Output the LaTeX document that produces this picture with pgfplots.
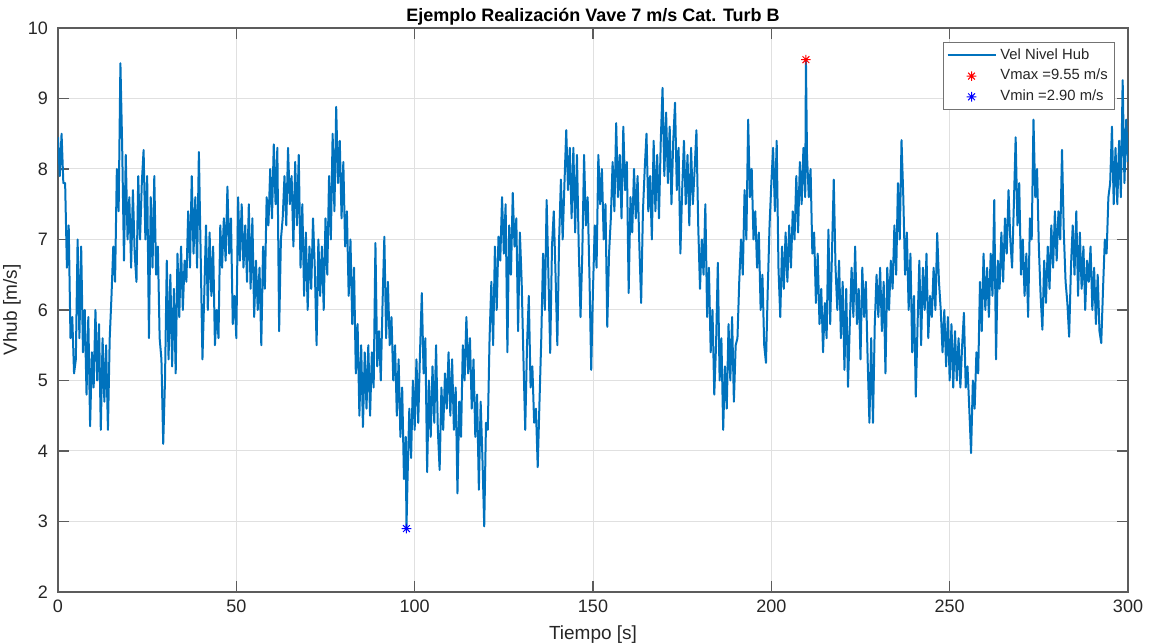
\documentclass[border=0pt]{standalone}
\usepackage{fontspec}
\setmainfont{Liberation Sans}
\usepackage{pgfplots}
\usepackage{pgfplotstable}
\pgfplotsset{compat=1.18}

\definecolor{mlblue}{RGB}{0,114,189}
\definecolor{axgray}{RGB}{38,38,38}
\definecolor{gridgray}{RGB}{224,224,224}

% eight-armed asterisk marker
\pgfdeclareplotmark{star8}{%
  \pgfpathmoveto{\pgfpoint{0pt}{\pgfplotmarksize}}%
  \pgfpathlineto{\pgfpoint{0pt}{-\pgfplotmarksize}}%
  \pgfpathmoveto{\pgfpoint{\pgfplotmarksize}{0pt}}%
  \pgfpathlineto{\pgfpoint{-\pgfplotmarksize}{0pt}}%
  \pgfpathmoveto{\pgfpoint{0.7071\pgfplotmarksize}{0.7071\pgfplotmarksize}}%
  \pgfpathlineto{\pgfpoint{-0.7071\pgfplotmarksize}{-0.7071\pgfplotmarksize}}%
  \pgfpathmoveto{\pgfpoint{-0.7071\pgfplotmarksize}{0.7071\pgfplotmarksize}}%
  \pgfpathlineto{\pgfpoint{0.7071\pgfplotmarksize}{-0.7071\pgfplotmarksize}}%
  \pgfusepathqstroke}

% legend images: a long blue line sample and a centred single mark
\pgfplotsset{
  legline/.style={legend image code/.code={%
    \draw[color=mlblue, line width=0.9pt] (0pt,0pt) -- (24pt,0pt);}},
  legmark/.style={legend image code/.code={\draw[mark repeat=2, mark phase=2, ##1]
    plot coordinates {(0pt,0pt) (12pt,0pt) (24pt,0pt)};}},
}

% hub-height wind speed record, t [s], v [m/s]
\pgfplotstableread{
x y
0 8.45
0.5 7.9
1 8.5
1.5 7.8
2 7.8
2.5 6.6
3 7.2
3.5 5.6
4 5.9
4.5 5.1
5 5.3
5.5 7.0
6 5.6
6.5 6.9
7 5.4
7.5 6.0
8 4.8
8.5 5.9
9 4.35
9.5 5.4
10 4.9
10.5 6.0
11 5.0
11.5 5.8
12 4.3
12.5 5.6
13 4.7
13.5 5.5
14 4.3
14.5 5.6
15 6.2
15.5 6.9
16 6.4
16.5 8.0
17 7.4
17.5 9.5
18 8.3
18.5 6.7
19 8.2
19.5 7.0
20 7.6
20.5 6.6
21 7.7
21.5 6.8
22 6.4
22.5 7.9
23 7.0
23.5 7.8
24 8.27
24.5 7.0
25 7.9
25.5 5.6
26 7.6
26.5 6.6
27 7.9
27.5 6.5
28 6.9
28.5 5.6
29 5.3
29.5 4.1
30 5.0
30.5 6.7
31 5.3
31.5 6.5
32 5.2
32.5 6.3
33 5.1
33.5 6.8
34 5.9
34.5 6.9
35 6.0
35.5 6.7
36 6.4
36.5 7.4
37 6.6
37.5 7.9
38 6.8
38.5 7.6
39 6.6
39.5 8.24
40 6.8
40.5 5.3
41 6.2
41.5 7.2
42 6.0
42.5 7.1
43 6.2
43.5 6.9
44 5.5
44.5 6.0
45 5.6
45.5 7.2
46 6.6
46.5 7.3
47 6.7
47.5 7.75
48 6.8
48.5 7.3
49 5.8
49.5 6.2
50 5.6
50.5 7.6
51 6.7
51.5 7.5
52 6.6
52.5 7.2
53 6.4
53.5 7.5
54 6.3
54.5 7.3
55 5.9
55.5 6.7
56 6.0
56.5 6.6
57 5.5
57.5 6.9
58 6.3
58.5 7.6
59 7.2
59.5 8.0
60 7.3
60.5 8.35
61 7.5
61.5 8.3
62 5.7
62.5 7.0
63 7.3
63.5 7.9
64 7.2
64.5 8.3
65 7.5
65.5 7.9
66 6.9
66.5 8.1
67 7.2
67.5 8.2
68 6.6
68.5 7.5
69 6.2
69.5 7.1
70 6.0
70.5 6.9
71 6.3
71.5 7.3
72 6.6
72.5 5.5
73 7.0
73.5 6.2
74 6.9
74.5 6.0
75 7.3
75.5 6.5
76 7.9
76.5 7.0
77 8.5
77.5 7.4
78 8.88
78.5 7.8
79 8.4
79.5 7.3
80 8.1
80.5 6.9
81 7.4
81.5 6.2
82 7.0
82.5 5.8
83 6.6
83.5 5.1
84 5.8
84.5 4.5
85 5.5
85.5 4.34
86 5.4
86.5 4.6
87 5.5
87.5 4.5
88 5.4
88.5 4.9
89 6.95
89.5 5.2
90 5.7
90.5 5.0
91 6.1
91.5 7.04
92 5.6
92.5 6.4
93 5.5
93.5 5.9
94 5.0
94.5 5.5
95 4.5
95.5 5.3
96 4.2
96.5 4.9
97 3.6
97.5 4.2
97.7 2.90
98 3.6
98.5 4.6
99 3.9
99.5 5.0
100 4.3
100.5 5.3
101 4.4
101.5 5.4
102 6.24
102.5 5.1
103 5.6
103.5 3.7
104 5.0
104.5 4.2
105 5.2
105.5 4.4
106 5.5
106.5 4.3
107 3.73
107.5 4.9
108 4.3
108.5 5.1
109 4.6
109.5 5.4
110 4.5
110.5 5.3
111 4.3
111.5 4.9
112 3.4
112.5 4.7
113 4.2
113.5 5.5
114 5.0
114.5 5.9
115 5.1
115.5 5.6
116 4.6
116.5 5.3
117 4.2
117.5 4.8
118 3.45
118.5 4.7
119 3.9
119.5 2.93
120 4.4
120.5 4.3
121 5.6
121.5 6.4
122 5.5
122.5 6.9
123 6.0
123.5 7.04
124 6.7
124.5 7.6
125 6.8
125.5 7.5
126 5.4
126.5 7.2
127 6.5
127.5 7.66
128 6.9
128.5 7.3
129 5.7
129.5 7.1
130 6.4
130.5 5.3
131 4.3
131.5 5.5
132 6.2
132.5 4.9
133 5.2
133.5 4.4
134 4.6
134.5 3.77
135 4.7
135.5 5.6
136 6.8
136.5 6.0
137 7.56
137.5 6.5
138 5.39
138.5 6.9
139 7.4
139.5 6.5
140 5.5
140.5 7.0
141 7.85
141.5 7.0
142 7.8
142.5 8.55
143 7.7
143.5 8.3
144 7.3
144.5 8.3
145 7.1
145.5 8.2
146 6.9
146.5 5.9
147 6.8
147.5 8.2
148 7.2
148.5 7.6
149 6.5
149.5 5.15
150 6.3
150.5 7.2
151 6.6
151.5 8.2
152 7.5
152.5 8.0
153 7.0
153.5 7.5
154 5.76
154.5 6.8
155 7.3
155.5 8.1
156 7.4
156.5 8.65
157 7.6
157.5 8.2
158 7.3
158.5 8.6
159 7.7
159.5 8.1
160 6.24
160.5 7.6
161 7.1
161.5 8.0
162 7.3
162.5 7.9
163 6.9
163.5 6.1
164 7.4
164.5 8.0
165 8.5
165.5 7.4
166 7.9
166.5 7.0
167 8.4
167.5 7.4
168 8.2
168.5 7.3
169 8.4
169.5 9.15
170 7.9
170.5 8.8
171 7.8
171.5 8.6
172 7.5
172.5 8.4
173 8.94
173.5 7.7
174 8.3
174.5 6.8
175 7.7
175.5 8.4
176 7.5
176.5 8.2
177 7.2
177.5 8.3
178 7.5
178.5 8.0
179 8.55
179.5 7.2
180 6.3
180.5 7.0
181 6.5
181.5 7.5
182 5.9
182.5 6.6
183 5.4
183.5 6.0
184 4.8
184.5 5.5
185 6.67
185.5 5.0
186 5.6
186.5 4.3
187 5.2
187.5 4.6
188 5.8
188.5 5.0
189 5.9
189.5 4.7
190 5.5
190.5 5.6
191 6.4
191.5 7.0
192 6.5
192.5 7.7
193 7.0
193.5 8.7
194 7.6
194.5 8.0
195 7.0
195.5 7.4
196 6.6
196.5 7.1
197 6.0
197.5 6.5
198 5.5
198.5 5.25
199 6.3
199.5 7.2
200 7.8
200.5 8.3
201 7.4
201.5 8.4
202 6.6
202.5 5.9
203 6.9
203.5 6.3
204 7.1
204.5 6.4
205 7.2
205.5 6.6
206 7.4
206.5 7.0
207 7.9
207.5 7.1
208 8.1
208.5 7.5
209 8.3
209.5 7.6
209.7 9.55
210 8.2
210.5 7.6
211 8.0
211.5 6.8
212 7.1
212.5 6.1
213 6.8
213.5 5.8
214 6.3
214.5 5.4
215 6.1
215.5 5.6
216 7.14
216.5 5.8
217 6.8
217.5 7.85
218 6.6
218.5 6.0
219 6.7
219.5 5.6
220 6.4
220.5 5.15
221 6.3
221.5 4.91
222 5.8
222.5 6.6
223 5.9
223.5 6.9
224 5.8
224.5 6.3
225 5.3
225.5 6.6
226 5.9
226.5 6.4
227 5.3
227.5 4.4
228 5.6
228.5 4.4
229 5.8
229.5 6.5
230 5.9
230.5 6.6
231 5.7
231.5 6.4
232 5.1
232.5 6.6
233 6.0
233.5 6.7
234 6.3
234.5 7.2
235 6.5
235.5 7.8
236 7.0
236.5 8.41
237 7.6
237.5 6.5
238 7.1
238.5 6.0
239 6.8
239.5 5.4
240 6.2
240.5 4.77
241 5.8
241.5 6.7
242 5.5
242.5 6.6
243 6.0
243.5 6.8
244 5.6
244.5 6.2
245 5.9
245.5 6.6
246 6.0
246.5 7.09
247 6.4
247.5 6.0
248 5.4
248.5 6.0
249 5.2
249.5 5.9
250 5.0
250.5 5.8
251 4.9
251.5 5.7
252 5.0
252.5 5.6
253 4.9
253.5 5.5
254 5.96
254.5 4.9
255 5.2
255.5 4.6
256 3.97
256.5 5.0
257 4.6
257.5 5.4
258 5.1
258.5 6.4
259 5.7
259.5 6.8
260 6.0
260.5 6.6
261 5.9
261.5 6.8
262 6.2
262.5 7.56
263 5.3
263.5 6.7
264 6.3
264.5 7.1
265 6.4
265.5 7.3
266 6.8
266.5 7.7
267 7.0
267.5 6.6
268 7.5
268.5 8.45
269 7.2
269.5 7.8
270 6.5
270.5 7.0
271 6.2
271.5 6.8
272 5.9
272.5 7.3
273 7.0
273.5 8.7
274 7.6
274.5 8.0
275 6.9
275.5 6.2
276 5.72
276.5 6.7
277 6.1
277.5 6.9
278 6.3
278.5 7.2
279 6.6
279.5 7.4
280 6.7
280.5 7.4
281 7.0
281.5 8.27
282 7.1
282.5 6.4
283 6.1
283.5 5.62
284 6.6
284.5 7.2
285 6.5
285.5 7.4
286 6.2
286.5 7.1
287 6.3
287.5 6.9
288 6.0
288.5 6.7
289 6.4
289.5 6.9
290 6.0
290.5 6.6
291 5.8
291.5 6.5
292 5.7
292.5 5.53
293 6.3
293.5 7.0
294 6.8
294.5 7.6
295 7.8
295.5 8.6
296 7.5
296.5 8.3
297 7.5
297.5 8.4
298 7.6
298.5 9.26
299 7.8
299.5 8.7
300 8.1
}\vhub

\begin{document}
\begin{tikzpicture}
\begin{axis}[
  scale only axis,
  width=535pt, height=282pt,
  xmin=0, xmax=300, ymin=2, ymax=10,
  xtick={0,50,...,300}, ytick={2,3,...,10},
  xtick pos=both, ytick pos=both,
  xticklabel pos=lower, yticklabel pos=left,
  tick align=inside,
  major tick length=5.3pt,
  grid=major,
  major grid style={gridgray, line width=0.5pt},
  axis line style={axgray!75, line width=0.6pt},
  every tick/.style={axgray!75, line width=0.6pt},
  tick label style={font=\fontsize{9}{10}\selectfont, text=axgray},
  /pgf/number format/assume math mode=true,
  yticklabel style={xshift=-1.5pt},
  xticklabel style={yshift=-0.5pt},
  every axis title shift=0pt,
  title={Ejemplo Realización Vave 7 m/s Cat. Turb B},
  title style={at={(axis description cs:0.5,1.011)}, anchor=base,
    font=\fontsize{9}{10}\selectfont\bfseries, text=black},
  xlabel={Tiempo [s]},
  xlabel style={at={(axis description cs:0.5,-0.085)}, anchor=base,
    font=\fontsize{9.5}{11}\selectfont, text=axgray},
  ylabel={Vhub [m/s]},
  ylabel style={at={(axis description cs:-0.043,0.5)}, anchor=center,
    font=\fontsize{9.5}{11}\selectfont, text=axgray},
  legend cell align=left,
  legend style={at={(0.988,0.975)}, anchor=north east,
    draw=black!55, fill=white, font=\fontsize{7.4}{9}\selectfont,
    text=axgray, inner xsep=1.5pt, inner ysep=1pt, row sep=-0.5pt},
]
\addplot[mlblue, line width=1pt, line join=round, legline]
  table[x=x, y=y] {\vhub};
\addlegendentry{Vel Nivel Hub}
\addplot[only marks, red, mark=star8, mark size=2.4pt,
  mark options={line width=0.5pt}, legmark]
  coordinates {(209.7,9.55)};
\addlegendentry{Vmax =9.55 m/s}
\addplot[only marks, blue, mark=star8, mark size=2.4pt,
  mark options={line width=0.5pt}, legmark]
  coordinates {(97.7,2.90)};
\addlegendentry{Vmin =2.90 m/s}
\coordinate (ll) at (rel axis cs:0,0);
\coordinate (ur) at (rel axis cs:1,1);
\end{axis}
\pgfresetboundingbox
\path[use as bounding box] ([shift={(-29pt,-26pt)}]ll) rectangle ([shift={(11.5pt,14pt)}]ur);
\end{tikzpicture}
\end{document}
